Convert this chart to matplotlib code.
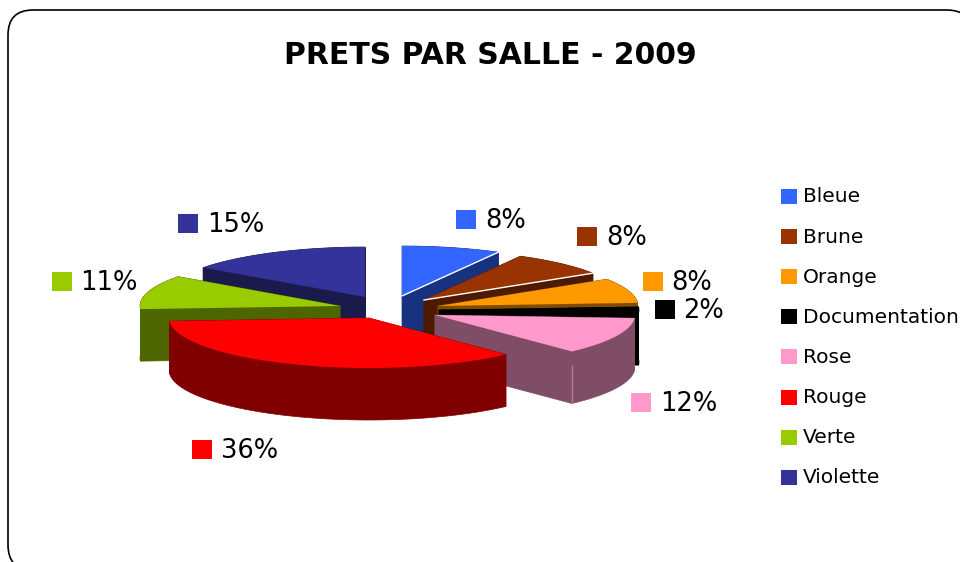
import numpy as np
import matplotlib
matplotlib.use('Agg')
import matplotlib.pyplot as plt
from matplotlib.patches import FancyBboxPatch, Polygon, Rectangle

title = 'PRETS PAR SALLE - 2009'
salles = ['Bleue', 'Brune', 'Orange', 'Documentation', 'Rose', 'Rouge', 'Verte', 'Violette']
prets = [8, 8, 8, 2, 12, 36, 11, 15]

top_colors = ['#3366ff', '#993300', '#ff9900', '#000000', '#ff99cc', '#ff0000', '#99cc00', '#333399']
side_colors = ['#17337f', '#4d1a00', '#804d00', '#000000', '#804d66', '#800000', '#4d6600', '#1a1a4d']

# pie layout, in pixels
center = (384, 308)
radius_x = 200
radius_y = 50
depth = 52
explode = [(18, -12), (40, -8), (54, -2), (55, 2), (51, 7), (-15, 10), (-44, -2), (-19, -11)]
draw_order = [0, 7, 6, 1, 2, 3, 4, 5]

# where the percent labels go (square corner, then text x)
label_pos = [(456, 210, 485), (577, 227, 606), (643, 272, 671), (655, 300, 683),
             (631, 393, 660), (192, 440, 221), (52, 272, 80), (178, 214, 207)]

font = 'DejaVu Sans'


def slice_arc(start, stop, apex):
    a = np.radians(np.linspace(start, stop, 60))
    x = apex[0] + radius_x * np.cos(a)
    y = apex[1] - radius_y * np.sin(a)
    return np.column_stack([x, y])


def side(pts, color):
    low = pts + (0, depth)
    ax.add_patch(Polygon(np.vstack([pts, low[::-1]]), closed=True, fc=color, ec=color, lw=0.5))


fig = plt.figure(figsize=(9.6, 5.62), dpi=100)
ax = fig.add_axes([0, 0, 1, 1])
ax.set_xlim(0, 960)
ax.set_ylim(562, 0)
ax.axis('off')

# frame runs off the right and bottom of the picture
frame = FancyBboxPatch((8, 10), 964, 560, boxstyle='round,pad=0,rounding_size=25',
                       fc='white', ec='black', lw=1.2)
ax.add_patch(frame)

# clockwise from 12 o'clock
angles = 90 - 360 * np.cumsum([0] + prets) / sum(prets)

for i in draw_order:
    apex = np.array([center[0] + explode[i][0], center[1] + explode[i][1]], dtype=float)
    arc = slice_arc(angles[i], angles[i + 1], apex)
    side(np.array([apex, arc[0]]), side_colors[i])
    side(np.array([apex, arc[-1]]), side_colors[i])
    side(arc, side_colors[i])
    ax.add_patch(Polygon(np.vstack([[apex], arc]), closed=True, fc=top_colors[i], ec='none'))
    if i in (0, 1):
        ax.plot([apex[0], arc[-1, 0]], [apex[1], arc[-1, 1]], color='white', lw=1)
    if i == 4:
        ax.plot([arc[-1, 0]] * 2, [arc[-1, 1] + 15, arc[-1, 1] + depth], color='#b08098', lw=1)

ax.text(490, 56, title, family=font, fontsize=21.5, fontweight='bold', ha='center', va='center',
        color='black')

for i in range(len(salles)):
    sx, sy, tx = label_pos[i]
    ax.add_patch(Rectangle((sx, sy), 20, 19, fc=top_colors[i], ec='none'))
    ax.text(tx, sy + 11, '%d%%' % prets[i], family=font, fontsize=18.5, ha='left', va='center',
            color='black')
    ly = 189 + 40.1 * i
    ax.add_patch(Rectangle((781, ly), 16, 15, fc=top_colors[i], ec='none'))
    ax.text(803, ly + 8, salles[i], family=font, fontsize=14.5, ha='left', va='center', color='black')

fig.savefig('out.png', dpi=100)
